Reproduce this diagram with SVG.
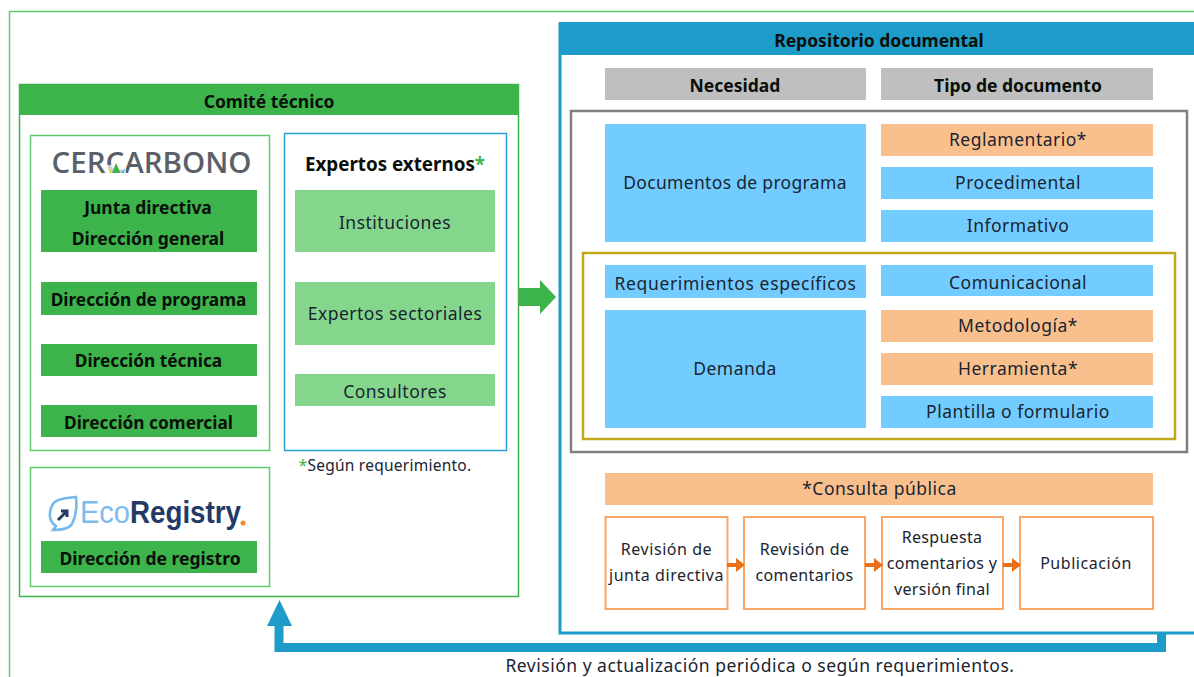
<svg xmlns="http://www.w3.org/2000/svg" width="1194" height="677" viewBox="0 0 1194 677">
<style>
text{font-family:"Noto Sans","Open Sans","Liberation Sans",sans-serif;font-size:17.5px;letter-spacing:.5px;fill:#1a2430;text-anchor:middle}
text.b{font-weight:700;fill:#0a0f0a;letter-spacing:0}
text.sm{font-size:16px;letter-spacing:.55px}
.g{fill:#3cb44b}.lg{fill:#85d68d}.bl{fill:#73ccff}.or{fill:#f9c08d}.gr{fill:#bfbfbf}
.og{fill:none;stroke:#5fc96c;stroke-width:1.5}
.ob{fill:#fff;stroke:#fba565;stroke-width:2}
.ar{fill:#e8701a}
</style>
<rect width="1194" height="677" fill="#fff"/>
<path d="M9.500 677V11.500H1194" fill="none" stroke="#5fc96c" stroke-width="1.500"/>

<g id="comite">
<rect x="19.500" y="84.500" width="499" height="512" fill="#fff" stroke="#3cb44b" stroke-width="1.500"/>
<rect x="19" y="84" width="500" height="31" class="g"/>
<text x="269" y="107.500" class="b">Comité técnico</text>
</g>
<g id="cercarbono">
<rect x="30.500" y="135.500" width="239" height="315" class="og"/>
<text x="151.500" y="173" style="font-family:'Open Sans',sans-serif;font-size:29px;font-weight:600;fill:#5a6068;letter-spacing:0" textLength="200" lengthAdjust="spacingAndGlyphs">CERCARBONO</text>
<path d="M107 165h19v9h-19z" fill="#fff" opacity=".7"/>
<path d="M112 173l4-10 4.500 10z" fill="#3cb44b"/><path d="M108 167l4.500 6h-3z" fill="#f0d040"/><path d="M120.500 173l4.500-5 -1 5z" fill="#40b8e8"/>
</g>
<g id="junta"><rect x="41" y="190" width="216" height="62" class="g"/><text x="148" y="214" class="b">Junta directiva</text><text x="148" y="245" class="b">Dirección general</text></g>
<g id="programa"><rect x="41" y="282" width="216" height="33" class="g"/><text x="148.500" y="306" class="b" style="font-size:17.300px">Dirección de programa</text></g>
<g id="tecnica"><rect x="41" y="344" width="216" height="32" class="g"/><text x="148.500" y="367" class="b" style="font-size:17.300px">Dirección técnica</text></g>
<g id="comercial"><rect x="41" y="405" width="216" height="32" class="g"/><text x="148.500" y="429" class="b" style="font-size:17.300px">Dirección comercial</text></g>
<g id="ecoregistry">
<rect x="30.500" y="467.500" width="239" height="119" class="og"/>
<path d="M76 497c-10 1-20 2-23 7-5 8-4 18 3 22l-3 4c8 0 16-1 19-6 4-8 5-18 4-27z" fill="none" stroke="#74b8ec" stroke-width="2.500"/>
<path d="M58 520l9-9m-6 0h6v6" fill="none" stroke="#243a66" stroke-width="3"/>
<text x="80" y="523" textLength="50" lengthAdjust="spacingAndGlyphs" style="font-family:'Liberation Sans',sans-serif;font-size:32px;fill:#7dbcec;letter-spacing:0;text-anchor:start">Eco</text>
<text x="130" y="523" textLength="111" lengthAdjust="spacingAndGlyphs" style="font-family:'Liberation Sans',sans-serif;font-size:32px;font-weight:700;fill:#243a66;letter-spacing:0;text-anchor:start">Registry</text>
<circle cx="243" cy="523" r="2.500" fill="#f28c28"/>
</g>
<g id="registro"><rect x="41" y="541" width="216" height="32" class="g"/><text x="150" y="565" class="b">Dirección de registro</text></g>

<g id="expertos">
<rect x="284.500" y="133.500" width="222" height="317" fill="#fff" stroke="#2a9fd0" stroke-width="1.500"/>
<text x="395" y="171" class="b" style="font-size:18.800px">Expertos externos<tspan fill="#3cb44b">*</tspan></text>
</g>
<g id="instituciones"><rect x="295" y="190" width="200" height="62" class="lg"/><text x="395" y="229">Instituciones</text></g>
<g id="sectoriales"><rect x="295" y="282" width="200" height="63" class="lg"/><text x="395" y="320">Expertos sectoriales</text></g>
<g id="consultores"><rect x="295" y="374" width="200" height="32" class="lg"/><text x="395" y="398">Consultores</text></g>
<text x="385" y="471" style="font-size:15.500px;letter-spacing:.25px"><tspan fill="#3cb44b">*</tspan>Según requerimiento.</text>

<g id="repositorio">
<rect x="560" y="24" width="640" height="609" fill="#fff" stroke="#1d9cc9" stroke-width="3"/>
<rect x="559" y="22" width="635" height="33" fill="#1d9cc9"/>
<text x="879" y="47" class="b">Repositorio documental</text>
</g>
<g id="necesidad"><rect x="605" y="68" width="261" height="32" class="gr"/><text x="735" y="92" class="b">Necesidad</text></g>
<g id="tipo"><rect x="881" y="68" width="272" height="32" class="gr"/><text x="1018" y="92" class="b">Tipo de documento</text></g>
<rect x="571" y="111" width="616" height="341" fill="none" stroke="#7f7f7f" stroke-width="2.500"/>
<g id="documentos"><rect x="605" y="124" width="261" height="118" class="bl"/><text x="735" y="189" style="letter-spacing:.32px">Documentos de programa</text></g>
<g id="reglamentario"><rect x="881" y="124" width="272" height="32" class="or"/><text x="1018" y="146">Reglamentario*</text></g>
<g id="procedimental"><rect x="881" y="167" width="272" height="32" class="bl"/><text x="1018" y="189">Procedimental</text></g>
<g id="informativo"><rect x="881" y="210" width="272" height="32" class="bl"/><text x="1018" y="232">Informativo</text></g>
<rect x="583" y="253" width="592" height="186" fill="none" stroke="#c0a81a" stroke-width="2.500"/>
<g id="requerimientos"><rect x="605" y="265" width="261" height="33" class="bl"/><text x="735.500" y="290" style="letter-spacing:.65px">Requerimientos específicos</text></g>
<g id="demanda"><rect x="605" y="310" width="261" height="118" class="bl"/><text x="735" y="375">Demanda</text></g>
<g id="comunicacional"><rect x="881" y="265" width="272" height="31" class="bl"/><text x="1018" y="289">Comunicacional</text></g>
<g id="metodologia"><rect x="881" y="310" width="272" height="32" class="or"/><text x="1018" y="332">Metodología*</text></g>
<g id="herramienta"><rect x="881" y="353" width="272" height="32" class="or"/><text x="1018" y="375">Herramienta*</text></g>
<g id="plantilla"><rect x="881" y="396" width="272" height="32" class="bl"/><text x="1018" y="418">Plantilla o formulario</text></g>
<g id="consulta"><rect x="605" y="473" width="548" height="32" class="or"/><text x="879.500" y="495">*Consulta pública</text></g>
<g id="rev-junta"><rect x="605.500" y="517" width="122" height="92" class="ob"/><text x="666.500" y="555" class="sm">Revisión de</text><text x="666.500" y="581" class="sm">junta directiva</text></g>
<g id="rev-com"><rect x="744" y="517" width="121" height="92" class="ob"/><text x="804.500" y="555" class="sm" style="letter-spacing:.4px">Revisión de</text><text x="804.500" y="581" class="sm" style="letter-spacing:.35px">comentarios</text></g>
<g id="respuesta"><rect x="882" y="517" width="121" height="92" class="ob"/><text x="942" y="543" class="sm" style="letter-spacing:.3px">Respuesta</text><text x="942" y="569" class="sm" style="letter-spacing:.3px">comentarios y</text><text x="942" y="595" class="sm" style="letter-spacing:.3px">versión final</text></g>
<g id="publicacion"><rect x="1020" y="517" width="133" height="92" class="ob"/><text x="1086" y="569" class="sm">Publicación</text></g>

<g id="connectors">
<path d="M518 288h22v-8l16 17-16 17v-8h-22z" fill="#3cb44b"/>
<path class="ar" d="M727 563h9v-5l9 7-9 7v-5h-9z"/>
<path class="ar" d="M865 563h9v-5l9 7-9 7v-5h-9z"/>
<path class="ar" d="M1003 563h9v-5l9 7-9 7v-5h-9z"/>
<path d="M1161.500 633v14.500H279V625" fill="none" stroke="#1d9cc9" stroke-width="9"/>
<path d="M267 626l12.500-26 12.500 26z" fill="#1d9cc9"/>
</g>
<text x="760" y="671.500">Revisión y actualización periódica o según requerimientos.</text>
</svg>
